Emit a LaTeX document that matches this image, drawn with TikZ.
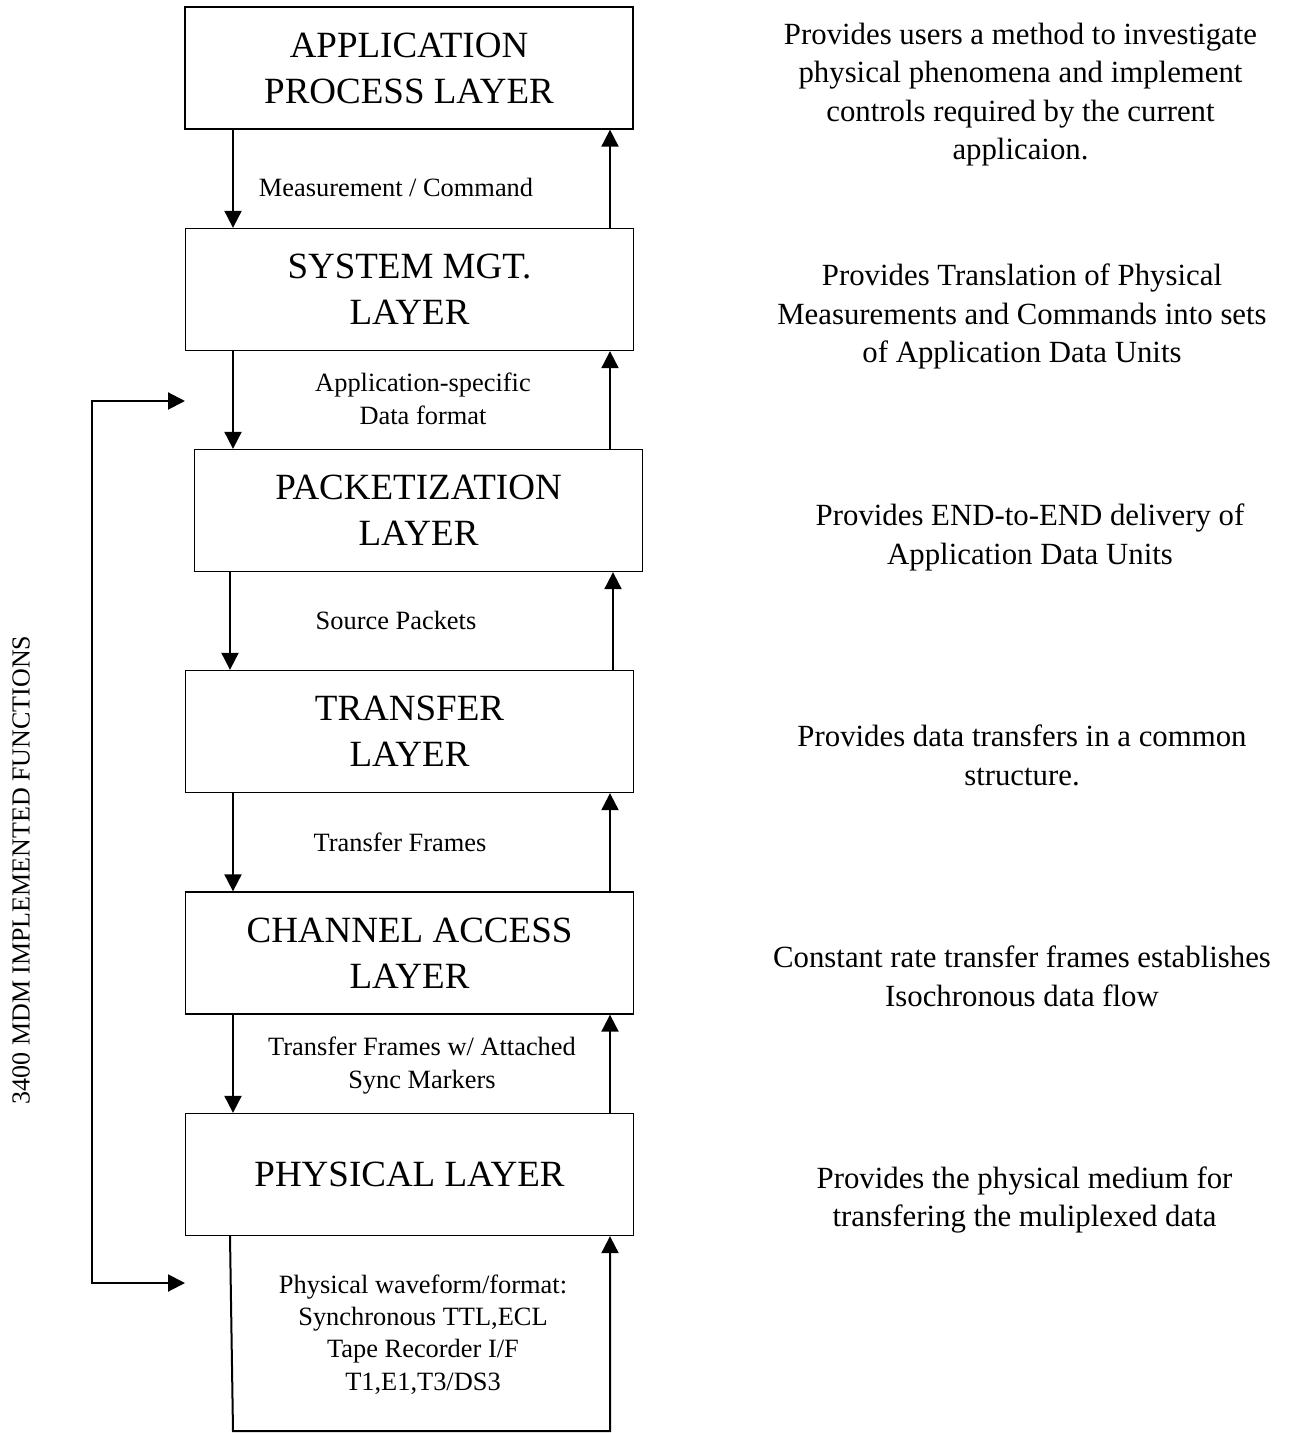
\documentclass[tikz,border=0pt]{standalone}
\usepackage{fontspec}
\setmainfont{Liberation Serif}
\usetikzlibrary{arrows.meta}

\begin{document}
\begin{tikzpicture}[x=0.5pt,y=-0.5pt,
  layer/.style={draw,line width=0.65pt,minimum width=224pt,minimum height=61pt,inner sep=0pt,align=center,font=\fontsize{18.5}{23}\selectfont},
  info/.style={align=center,inner sep=0pt,font=\fontsize{15.4}{19.3}\selectfont},
  tag/.style={align=center,inner sep=0pt,font=\fontsize{13.2}{16.2}\selectfont},
  flow/.style={line width=1pt,-{Triangle[length=8.5pt,width=8.5pt]}},
  bothflow/.style={line width=1pt,{Triangle[length=8.5pt,width=8.5pt]}-{Triangle[length=8.5pt,width=8.5pt]}}]
\useasboundingbox (0,0) rectangle (1291,1433);

% layer boxes
\node[layer] (app) at (409,68) {APPLICATION\\PROCESS LAYER};
\node[layer] (sys) at (409.5,289.5) {SYSTEM MGT.\\LAYER};
\node[layer] (pkt) at (418.5,510.5) {PACKETIZATION\\LAYER};
\node[layer] (xfer) at (409.5,731.5) {TRANSFER\\LAYER};
\node[layer] (chan) at (409.5,953) {CHANNEL ACCESS\\LAYER};
\node[layer] (phys) at (409.5,1174.5) {PHYSICAL LAYER};

% columns of the arrows
\coordinate (dn) at (233,0);
\coordinate (up) at (610,0);
\coordinate (dnp) at (230,0);
\coordinate (upp) at (613,0);

\draw[flow] (app.south -| dn) -- (sys.north -| dn);
\draw[flow] (sys.north -| up) -- (app.south -| up);
\draw[flow] (sys.south -| dn) -- (pkt.north -| dn);
\draw[flow] (pkt.north -| up) -- (sys.south -| up);
\draw[flow] (pkt.south -| dnp) -- (xfer.north -| dnp);
\draw[flow] (xfer.north -| upp) -- (pkt.south -| upp);
\draw[flow] (xfer.south -| dn) -- (chan.north -| dn);
\draw[flow] (chan.north -| up) -- (xfer.south -| up);
\draw[flow] (chan.south -| dn) -- (phys.north -| dn);
\draw[flow] (phys.north -| up) -- (chan.south -| up);

% loop below the physical layer
\coordinate (loopl) at (233,1431);
\coordinate (loopr) at (610,1431);
\draw[flow] (phys.south -| dnp) -- (loopl) -- (loopr) -- (phys.south -| up);

% labels between the layers
\node[tag,anchor=base] (meas) at (396,197) {Measurement / Command};
\node[tag] (adf) at (423,399) {Application-specific\\Data format};
\node[tag,anchor=base] (srcp) at (396,629) {Source Packets};
\node[tag,anchor=base] (tf) at (400,851) {Transfer Frames};
\node[tag] (tfsm) at (422,1065.5) {Transfer Frames w/ Attached\\Sync Markers};
\node[tag] (wave) at (423,1334.5) {Physical waveform/format:\\Synchronous TTL,ECL\\Tape Recorder I/F\\T1,E1,T3/DS3};

% bracket on the left
\coordinate (brtop) at (185,401);
\coordinate (brbot) at (185,1283);
\coordinate (brx) at (92,0);
\draw[bothflow] (brtop) -- (brtop -| brx) -- (brbot -| brx) -- (brbot);
\node[rotate=90,font=\fontsize{13}{16}\selectfont] (mdm) at (21,870) {3400 MDM IMPLEMENTED FUNCTIONS};

% descriptions on the right
\node[info] (dapp) at (1020.5,94.5) {Provides users a method to investigate\\physical phenomena and implement\\controls required by the current\\applicaion.};
\node[info] (dsys) at (1022,316.5) {Provides Translation of Physical\\Measurements and Commands into sets\\of Application Data Units};
\node[info] (dpkt) at (1030,537.5) {Provides END-to-END delivery of\\Application Data Units};
\node[info] (dxfer) at (1022,755.5) {Provides data transfers in a common\\structure.};
\node[info] (dchan) at (1022,976.5) {Constant rate transfer frames establishes\\Isochronous data flow};
\node[info] (dphys) at (1024.5,1200) {Provides the physical medium for\\transfering the muliplexed data};
\end{tikzpicture}
\end{document}
